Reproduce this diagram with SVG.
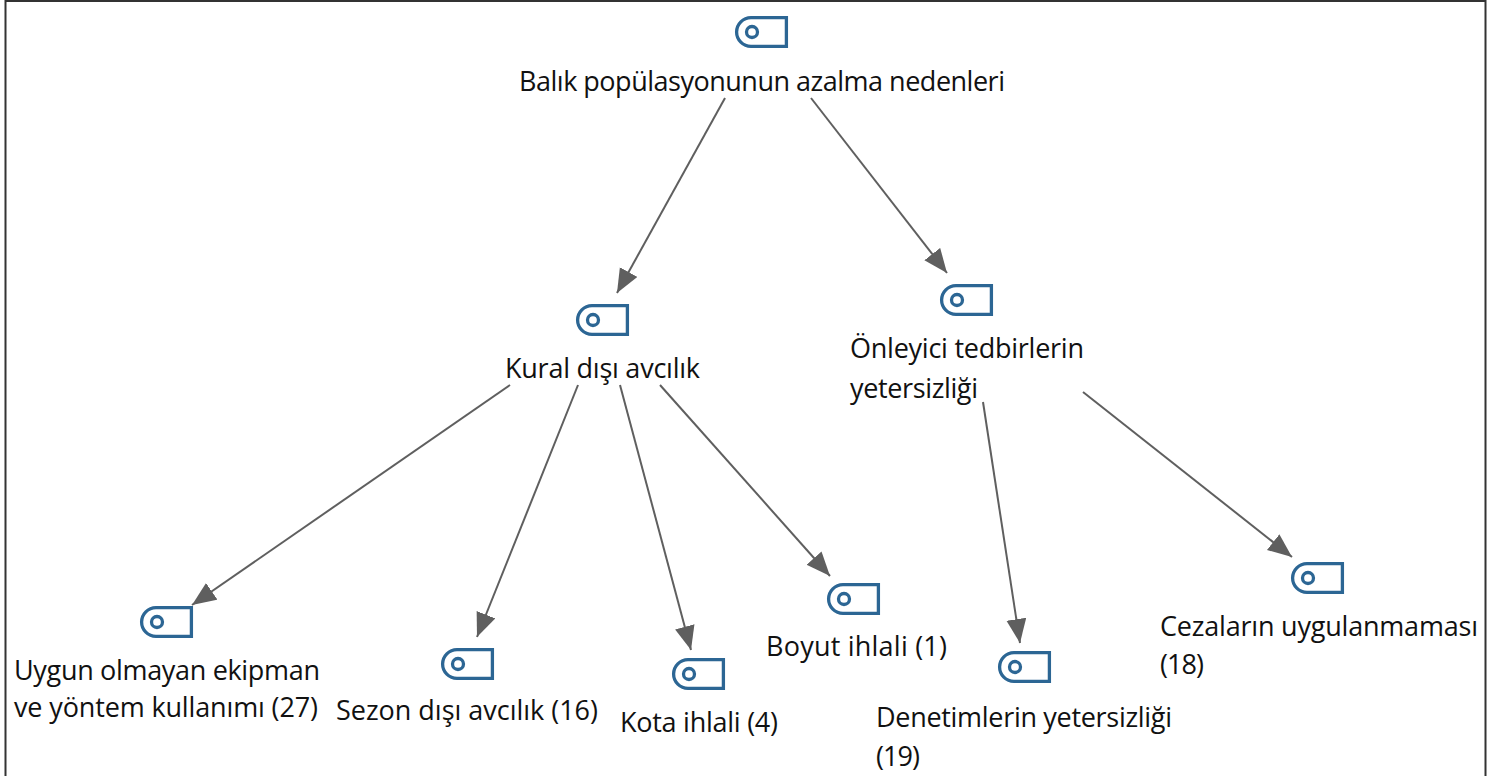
<svg xmlns="http://www.w3.org/2000/svg" width="1491" height="776" viewBox="0 0 1491 776">
<style>
text{font-family:"Open Sans","Noto Sans","Liberation Sans",sans-serif;font-size:27px;fill:#111}
.ic{fill:none;stroke:#2c6694;stroke-width:3.3}
.c{stroke:#5f5f5f;stroke-width:2;fill:none;marker-end:url(#a)}
</style>
<defs>
<marker id="a" markerUnits="userSpaceOnUse" markerWidth="26" markerHeight="22" refX="24" refY="10" orient="auto"><path d="M0 0L24 10L0 20Z" fill="#5f5f5f"/></marker>
<g id="tag"><path class="ic" d="M51.400 1.600H16A14.400 14.400 0 0 0 1.600 16A14.400 14.400 0 0 0 16 30.400H51.400Z"/><circle class="ic" cx="17" cy="16" r="5.500"/></g>
</defs>
<rect x="5.500" y="1" width="1480" height="790" fill="#fff" stroke="#333" stroke-width="2"/>
<g id="connectors">
<path class="c" d="M725 98L617 293"/>
<path class="c" d="M811 98L947 273"/>
<path class="c" d="M510 385L192 605"/>
<path class="c" d="M578 385L477 637"/>
<path class="c" d="M620 385L691 650"/>
<path class="c" d="M660 385L830 576"/>
<path class="c" d="M983 402L1020 643"/>
<path class="c" d="M1083 392L1292 557"/>
</g>
<g id="n1"><use href="#tag" x="735" y="16"/><text x="519" y="91" textLength="486">Balık popülasyonunun azalma nedenleri</text></g>
<g id="n2"><use href="#tag" x="576" y="304"/><text x="505" y="378" textLength="195">Kural dışı avcılık</text></g>
<g id="n3"><use href="#tag" x="940" y="284"/><text x="850" y="358" textLength="234">Önleyici tedbirlerin</text><text x="850" y="398" textLength="128">yetersizliği</text></g>
<g id="n4"><use href="#tag" x="140" y="606"/><text x="14" y="680" textLength="306">Uygun olmayan ekipman</text><text x="14" y="717" textLength="304">ve yöntem kullanımı (27)</text></g>
<g id="n5"><use href="#tag" x="441" y="648"/><text x="336" y="720" textLength="262">Sezon dışı avcılık (16)</text></g>
<g id="n6"><use href="#tag" x="672" y="658"/><text x="620" y="732" textLength="158">Kota ihlali (4)</text></g>
<g id="n7"><use href="#tag" x="827" y="583"/><text x="766" y="656" textLength="181">Boyut ihlali (1)</text></g>
<g id="n8"><use href="#tag" x="998" y="651"/><text x="876" y="727" textLength="296">Denetimlerin yetersizliği</text><text x="876" y="766" textLength="44">(19)</text></g>
<g id="n9"><use href="#tag" x="1291" y="562"/><text x="1160" y="636" textLength="318">Cezaların uygulanmaması</text><text x="1160" y="674" textLength="44">(18)</text></g>
</svg>
